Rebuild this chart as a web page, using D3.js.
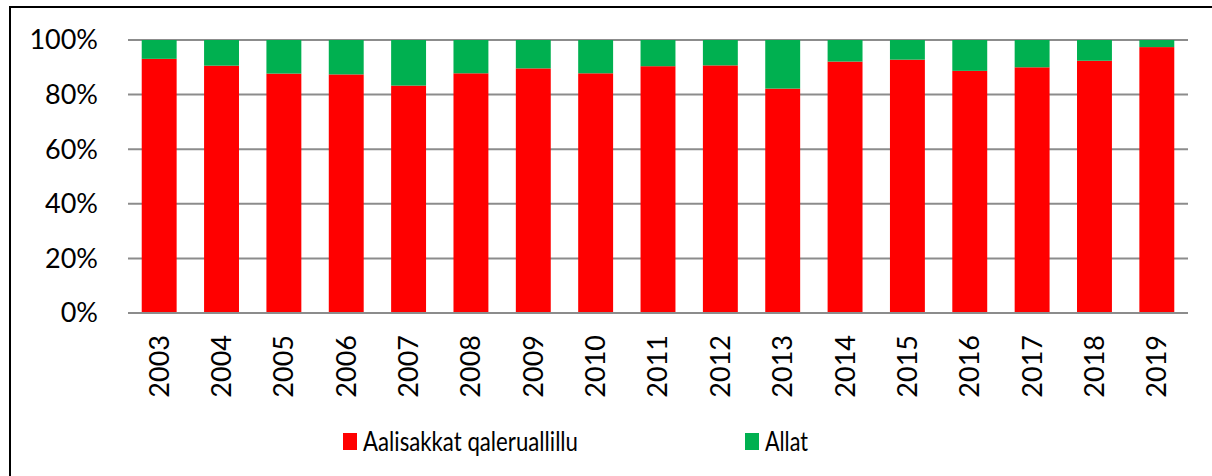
<!DOCTYPE html>
<html>
<head>
<meta charset="utf-8">
<script src="https://cdn.jsdelivr.net/npm/d3@7"></script>
<style>
  body { margin: 0; background: #fff; }
  svg { display: block; font-family: Lato, "Open Sans", sans-serif; }
</style>
</head>
<body>
<svg width="1212" height="476"></svg>
<script>
// chart data
var years = ["2003", "2004", "2005", "2006", "2007", "2008", "2009", "2010", "2011",
             "2012", "2013", "2014", "2015", "2016", "2017", "2018", "2019"];
// share of "Aalisakkat qaleruallillu" (percent)
var redShare = [93.1, 90.6, 87.7, 87.4, 83.3, 87.8, 89.6, 87.8, 90.4,
                90.7, 82.2, 92.1, 92.8, 88.7, 90.0, 92.4, 97.4];
// share of "Allat" (percent)
var greenShare = [6.9, 9.4, 12.3, 12.6, 16.7, 12.2, 10.4, 12.2, 9.6,
                  9.3, 17.8, 7.9, 7.2, 11.3, 10.0, 7.6, 2.6];
var seriesNames = ["Aalisakkat qaleruallillu", "Allat"];
var seriesColors = ["#ff0000", "#00b050"];
var yTicks = [0, 20, 40, 60, 80, 100];

var svg = d3.select("svg");

// outer frame (cut off at right and bottom like the source)
svg.append("rect")
  .attr("x", 10).attr("y", 7)
  .attr("width", 1220).attr("height", 490)
  .attr("fill", "none")
  .attr("stroke", "#000")
  .attr("stroke-width", 2);

var margin = {left: 128, right: 1188, top: 40, bottom: 313};

var x = d3.scaleBand()
  .domain(years)
  .range([margin.left, margin.right])
  .paddingInner(0.44)
  .paddingOuter(0.22);

var y = d3.scaleLinear()
  .domain([0, 100])
  .range([margin.bottom, margin.top]);

// gridlines
svg.append("g")
  .selectAll("line")
  .data(yTicks)
  .enter().append("line")
  .attr("x1", margin.left).attr("x2", margin.right)
  .attr("y1", function(d) { return y(d); })
  .attr("y2", function(d) { return y(d); })
  .attr("stroke", "#8c8c8c")
  .attr("stroke-width", 2);

// stack the two series
var rows = years.map(function(yr, i) {
  return {year: yr, a: redShare[i], b: greenShare[i]};
});
var stack = d3.stack().keys(["a", "b"]);
var layers = stack(rows);

svg.append("g")
  .selectAll("g")
  .data(layers)
  .enter().append("g")
  .attr("fill", function(d, i) { return seriesColors[i]; })
  .selectAll("rect")
  .data(function(d) { return d; })
  .enter().append("rect")
  .attr("x", function(d) { return x(d.data.year); })
  .attr("width", x.bandwidth())
  .attr("y", function(d) { return y(d[1]); })
  .attr("height", function(d) { return y(d[0]) - y(d[1]); });

// bottom axis line redrawn on top of bars
svg.append("line")
  .attr("x1", margin.left).attr("x2", margin.right)
  .attr("y1", y(0)).attr("y2", y(0))
  .attr("stroke", "#8c8c8c")
  .attr("stroke-width", 2);

// y labels
svg.append("g")
  .selectAll("text")
  .data(yTicks)
  .enter().append("text")
  .attr("x", 98)
  .attr("y", function(d) { return y(d); })
  .attr("dy", "0.35em")
  .attr("text-anchor", "end")
  .attr("font-size", 27)
  .attr("fill", "#000")
  .text(function(d) { return d + "%"; });

// x labels, rotated
svg.append("g")
  .selectAll("text")
  .data(years)
  .enter().append("text")
  .attr("transform", function(d) {
    return "translate(" + (x(d) + x.bandwidth() / 2) + ",335) rotate(-90)";
  })
  .attr("dy", "0.35em")
  .attr("text-anchor", "end")
  .attr("font-size", 27)
  .attr("fill", "#000")
  .text(function(d) { return d; });

// legend (source font is narrower, so squeeze text to its width)
var legendX = [343, 745];
var legendW = [215, 43];
var legend = svg.append("g")
  .selectAll("g")
  .data(seriesNames)
  .enter().append("g")
  .attr("transform", function(d, i) { return "translate(" + legendX[i] + ",433)"; });

legend.append("rect")
  .attr("width", 14).attr("height", 17)
  .attr("fill", function(d, i) { return seriesColors[i]; });

legend.append("text")
  .attr("x", 20)
  .attr("y", 9)
  .attr("dy", "0.35em")
  .attr("font-size", 27)
  .attr("fill", "#000")
  .attr("textLength", function(d, i) { return legendW[i]; })
  .attr("lengthAdjust", "spacingAndGlyphs")
  .text(function(d) { return d; });
</script>
</body>
</html>
